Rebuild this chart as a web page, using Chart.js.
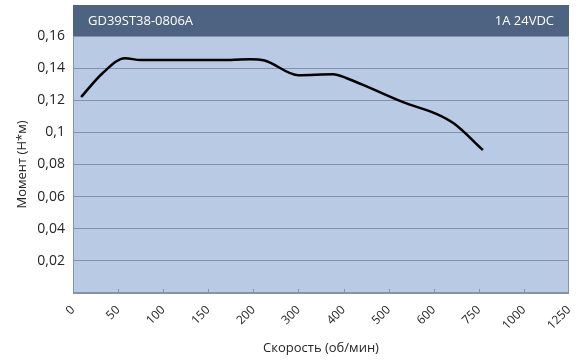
<!DOCTYPE html>
<html lang="ru">
<head>
  <meta charset="UTF-8">
  <title>GD39ST38-0806A</title>
  <script src="https://cdn.jsdelivr.net/npm/chart.js"></script>
  <style>
    html, body {
      margin: 0;
      padding: 0;
      background: #FFFFFF;
    }
    #wrap {
      width: 585px;
      height: 360px;
    }
  </style>
</head>
<body>
  <div id="wrap"><canvas id="torqueChart"></canvas></div>

  <script>
    // speed labels along the bottom axis (evenly spaced, not proportional)
    const speedLabels = ['0', '50', '100', '150', '200', '300', '400', '500', '600', '750', '1000', '1250'];
    // curve points: position along the speed axis (label index) and torque, Н*м
    const curvePos = [0.18, 0.66, 1.15, 1.5, 3.5, 3.92, 4.25, 5.0, 5.77, 6.07, 6.6, 7.32, 8.07, 8.45, 9.09];
    const torque = [0.122, 0.137, 0.1462, 0.145, 0.145, 0.1456, 0.1448, 0.1356, 0.1362, 0.1337, 0.1275, 0.1188, 0.1114, 0.1055, 0.089];
    const yTicks = [0, 0.02, 0.04, 0.06, 0.08, 0.1, 0.12, 0.14, 0.16];

    const modelName = 'GD39ST38-0806A';
    const driveInfo = '1A 24VDC';

    const FONT = "'Open Sans', 'Liberation Sans', sans-serif";

    // plot background, title strip, frame and inner tick marks
    const frame = {
      id: 'frame',
      beforeDraw(chart) {
        const { ctx, chartArea: a } = chart;
        ctx.save();
        ctx.fillStyle = '#B9CAE4';
        ctx.fillRect(a.left, a.top, a.right - a.left, a.bottom - a.top);
        ctx.fillStyle = '#4E6282';
        ctx.fillRect(a.left, 5, a.right - a.left, a.top - 5);
        ctx.fillStyle = '#FFFFFF';
        ctx.font = '13px ' + FONT;
        ctx.textBaseline = 'middle';
        ctx.textAlign = 'left';
        ctx.fillText(modelName, a.left + 15, (a.top + 5) / 2 + 1);
        ctx.textAlign = 'right';
        ctx.fillText(driveInfo, a.right - 15, (a.top + 5) / 2 + 1);
        ctx.restore();
      },
      afterDatasetsDraw(chart) {
        const { ctx, chartArea: a, scales } = chart;
        ctx.save();
        ctx.strokeStyle = '#8393AC';
        ctx.lineWidth = 1;
        ctx.strokeRect(a.left + 0.5, a.top + 0.5, a.right - a.left - 1, a.bottom - a.top - 1);
        ctx.beginPath();
        for (let i = 1; i < speedLabels.length - 1; i++) {
          const x = Math.round(scales.x.getPixelForValue(i)) + 0.5;
          ctx.moveTo(x, a.bottom);
          ctx.lineTo(x, a.bottom - 4);
        }
        ctx.stroke();
        ctx.restore();
      }
    };

    new Chart(document.getElementById('torqueChart'), {
      type: 'line',
      data: {
        datasets: [{
          data: curvePos.map((x, i) => ({ x: x, y: torque[i] })),
          borderColor: '#000000',
          borderWidth: 2.5,
          pointRadius: 0,
          cubicInterpolationMode: 'monotone',
          fill: false
        }]
      },
      options: {
        responsive: true,
        maintainAspectRatio: false,
        animation: false,
        layout: { padding: { top: 36, right: 16, left: 0, bottom: 0 } },
        plugins: {
          legend: { display: false },
          tooltip: { enabled: false }
        },
        scales: {
          x: {
            type: 'linear',
            min: 0,
            max: speedLabels.length - 1,
            afterFit(scale) { scale.height = 67; },
            afterBuildTicks(scale) {
              scale.ticks = speedLabels.map((_, i) => ({ value: i }));
            },
            grid: { display: false },
            border: { display: false },
            ticks: {
              autoSkip: false,
              minRotation: 45,
              maxRotation: 45,
              padding: 2,
              color: '#262626',
              font: { family: FONT, size: 12 },
              callback: v => speedLabels[v]
            },
            title: {
              display: true,
              text: 'Скорость (об/мин)',
              color: '#262626',
              font: { family: FONT, size: 13 },
              padding: { top: 4, bottom: 4 }
            }
          },
          y: {
            min: 0,
            max: 0.16,
            afterFit(scale) { scale.width = 73; },
            afterBuildTicks(scale) {
              scale.ticks = yTicks.map(v => ({ value: v }));
            },
            grid: {
              color: '#8393AC',
              lineWidth: 1,
              drawTicks: false
            },
            border: { display: false },
            ticks: {
              padding: 8,
              color: '#262626',
              font: { family: FONT, size: 14 },
              callback: v => v === 0 ? '' : String(Math.round(v * 100) / 100).replace('.', ',')
            },
            title: {
              display: true,
              text: 'Момент (Н*м)',
              color: '#262626',
              font: { family: FONT, size: 13 },
              padding: { top: 14, bottom: 4 }
            }
          }
        }
      },
      plugins: [frame]
    });
  </script>
</body>
</html>
